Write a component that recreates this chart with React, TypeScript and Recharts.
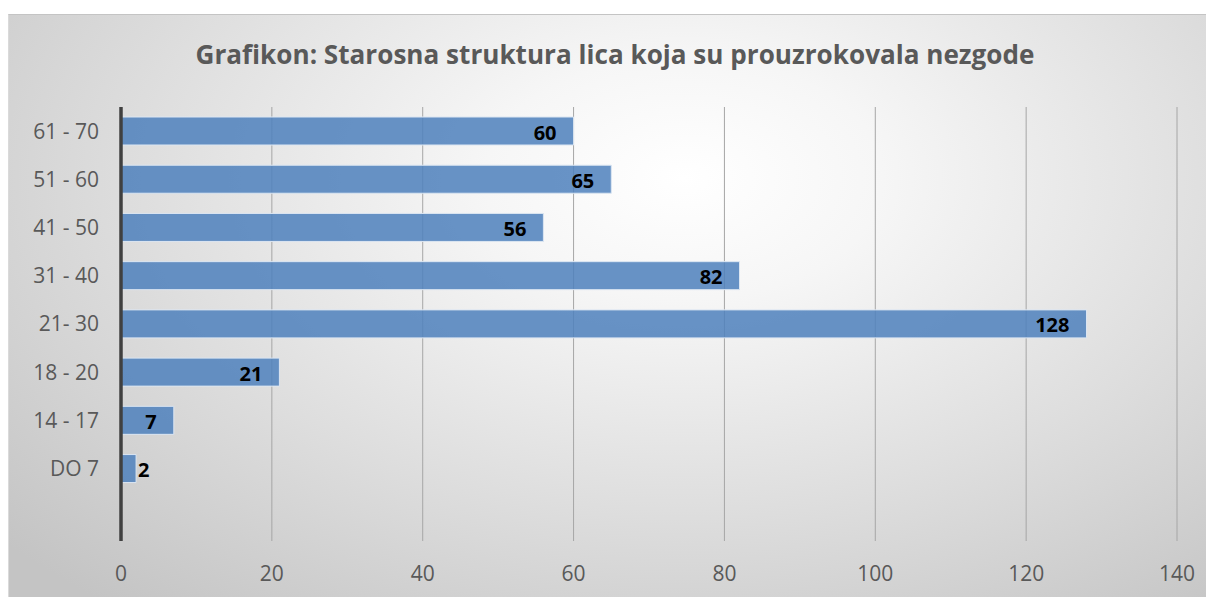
import React from "react";
import {
  Bar,
  BarChart,
  CartesianGrid,
  LabelList,
  XAxis,
  YAxis,
} from "recharts";

// age groups, top to bottom (last one is the empty row under "DO 7")
const ageGroups = [
  "61 - 70",
  "51 - 60",
  "41 - 50",
  "31 - 40",
  "21- 30",
  "18 - 20",
  "14 - 17",
  "DO 7",
  "",
];
const counts: (number | null)[] = [60, 65, 56, 82, 128, 21, 7, 2, null];
const xTicks = [0, 20, 40, 60, 80, 100, 120, 140];

const TITLE = "Grafikon: Starosna struktura lica koja su prouzrokovala nezgode";

const data = ageGroups.map((group, i) => ({ group, count: counts[i] }));

const FONT = "'Open Sans', sans-serif";

// Excel style "inside end" label, pushed outside when the bar is too short
// eslint-disable-next-line @typescript-eslint/no-explicit-any
function EndLabel(props: any) {
  const { x, y, width, height, value } = props;
  if (value === null || value === undefined) return null;
  const text = String(value);
  const textW = text.length * 12;
  const inside = width > textW + 21;
  return (
    <text
      x={inside ? x + width - 17 : x + width + 2}
      y={y + height / 2 + 1}
      textAnchor={inside ? "end" : "start"}
      dominantBaseline="central"
      fontFamily={FONT}
      fontWeight={700}
      fontSize={20}
      fill="#000000"
    >
      {text}
    </text>
  );
}

export default function App() {
  return (
    <div style={{ paddingTop: 6 }}>
      <div
        style={{
          position: "relative",
          width: 1206,
          height: 583,
          borderTop: "1px solid #c4c4c4",
          borderLeft: "1px solid #dadada",
          boxSizing: "border-box",
          background:
            "radial-gradient(ellipse 75% 95% at 56% 28%, #ffffff 0%, #f6f6f6 22%, #dedede 60%, #c4c4c4 100%)",
        }}
      >
        <svg
          width={1206}
          height={80}
          style={{ position: "absolute", left: -1, top: -1 }}
        >
          <text
            x={607}
            y={50}
            textAnchor="middle"
            fontFamily={FONT}
            fontWeight={700}
            fontSize={27}
            fill="#595959"
            textLength={839}
            lengthAdjust="spacingAndGlyphs"
          >
            {TITLE}
          </text>
        </svg>
        <div style={{ position: "absolute", left: -1, top: -1 }}>
          <BarChart
            width={1206}
            height={583}
            data={data}
            layout="vertical"
            barSize={28}
            margin={{ top: 93, right: 37, bottom: 0, left: 13 }}
          >
            <CartesianGrid
              horizontal={false}
              stroke="#a6a6a6"
              strokeWidth={1}
            />
            <XAxis
              type="number"
              domain={[0, 140]}
              ticks={xTicks}
              axisLine={false}
              tickLine={false}
              tickSize={0}
              tickMargin={25}
              height={56}
              tick={{ fontSize: 21, fill: "#595959", fontFamily: FONT }}
            />
            <YAxis
              type="category"
              dataKey="group"
              width={100}
              interval={0}
              tickLine={false}
              tickSize={0}
              tickMargin={22}
              axisLine={{ stroke: "#404040", strokeWidth: 3.5 }}
              tick={{ fontSize: 21, fill: "#595959", fontFamily: FONT }}
            />
            <Bar
              dataKey="count"
              fill="#4f81bd"
              fillOpacity={0.86}
              stroke="#dce6f2"
              strokeWidth={1}
              isAnimationActive={false}
            >
              <LabelList dataKey="count" content={EndLabel} />
            </Bar>
          </BarChart>
        </div>
      </div>
    </div>
  );
}
